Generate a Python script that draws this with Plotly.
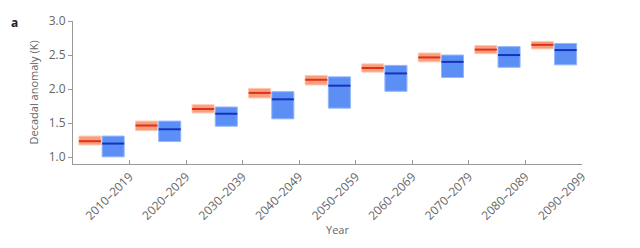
import plotly.graph_objects as go

decades = ["2010–2019", "2020–2029", "2030–2039", "2040–2049", "2050–2059",
           "2060–2069", "2070–2079", "2080–2089", "2090–2099"]

red_low = [1.18, 1.39, 1.65, 1.87, 2.06, 2.25, 2.40, 2.52, 2.59]
red_high = [1.31, 1.53, 1.77, 2.01, 2.20, 2.37, 2.53, 2.64, 2.70]
red_med = [1.235, 1.465, 1.708, 1.944, 2.137, 2.31, 2.465, 2.58, 2.65]

blue_low = [1.005, 1.23, 1.455, 1.563, 1.72, 1.968, 2.17, 2.32, 2.356]
blue_high = [1.31, 1.53, 1.737, 1.962, 2.18, 2.348, 2.50, 2.624, 2.67]
blue_med = [1.20, 1.41, 1.638, 1.85, 2.05, 2.23, 2.40, 2.50, 2.573]

yticks = [1.0, 1.5, 2.0, 2.5, 3.0]

RED_C, BLUE_C, W = 0.30, 0.71, 0.39
idx = list(range(len(decades)))

fig = go.Figure()

def seg(center, meds):
    xs, ys = [], []
    for i, m in zip(idx, meds):
        xs += [i + center - W / 2, i + center + W / 2, None]
        ys += [m, m, None]
    return xs, ys

fig.add_trace(go.Bar(
    x=[i + RED_C for i in idx], base=red_low,
    y=[h - l for h, l in zip(red_high, red_low)], width=W,
    marker=dict(color="#F99E7A", line=dict(color="#FDC8B2", width=1)),
    showlegend=False, hoverinfo="skip"))
fig.add_trace(go.Bar(
    x=[i + BLUE_C for i in idx], base=blue_low,
    y=[h - l for h, l in zip(blue_high, blue_low)], width=W,
    marker=dict(color="#5C8FF6", line=dict(color="#93B5FB", width=1)),
    showlegend=False, hoverinfo="skip"))

xs, ys = seg(RED_C, red_med)
fig.add_trace(go.Scatter(x=xs, y=ys, mode="lines",
                         line=dict(color="#E0301C", width=2),
                         showlegend=False, hoverinfo="skip"))
xs, ys = seg(BLUE_C, blue_med)
fig.add_trace(go.Scatter(x=xs, y=ys, mode="lines",
                         line=dict(color="#1532BC", width=2),
                         showlegend=False, hoverinfo="skip"))

font_fam = "Open Sans, Noto Sans, sans-serif"
fig.update_layout(
    width=640, height=248,
    margin=dict(l=72.5, r=58, t=15, b=84),
    paper_bgcolor="white", plot_bgcolor="white",
    barmode="overlay",
    font=dict(family=font_fam, size=11, color="#666"),
    xaxis=dict(
        range=[0, 9], tickmode="array",
        tickvals=[i + 1 for i in idx], ticktext=decades,
        tickangle=-45, ticks="inside", ticklen=4, tickcolor="#999",
        showline=True, linecolor="#999", linewidth=1,
        showgrid=False, zeroline=False,
        tickfont=dict(size=12, color="#666"),
    ),
    yaxis=dict(
        range=[0.9, 3.0], tickmode="array", tickvals=yticks,
        ticktext=[f"{v:.1f}" for v in yticks],
        ticks="outside", ticklen=4, tickcolor="#999",
        showline=True, linecolor="#999", linewidth=1,
        showgrid=False, zeroline=False,
        tickfont=dict(size=12, color="#666"),
    ),
    annotations=[
        dict(text="Year", x=0.519, y=-0.46, xref="paper", yref="paper",
             showarrow=False, font=dict(size=11, color="#666"),
             xanchor="center", yanchor="middle"),
        dict(text="Decadal anomaly (K)", x=-0.0775, y=0.497, xref="paper",
             yref="paper", textangle=-90, showarrow=False,
             font=dict(size=11, color="#666"),
             xanchor="center", yanchor="middle"),
        dict(text="<b>a</b>", x=-0.115, y=0.987, xref="paper", yref="paper",
             showarrow=False, font=dict(size=12, color="#222"),
             xanchor="center", yanchor="middle"),
    ],
)

fig.write_html("out.html")
